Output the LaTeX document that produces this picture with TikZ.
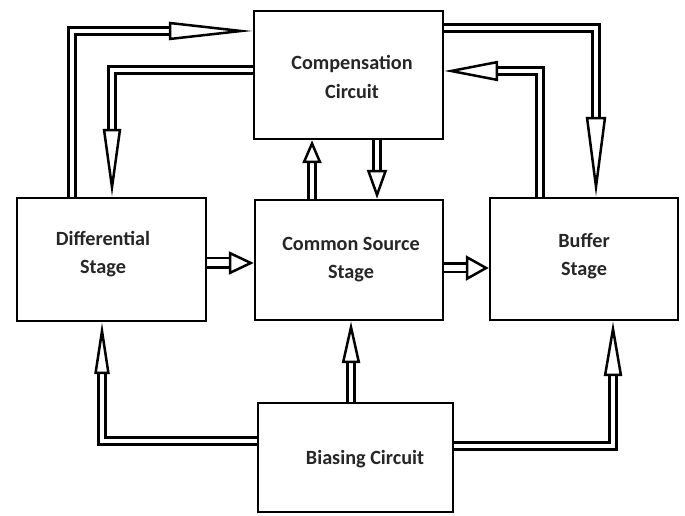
\documentclass[tikz,border=0pt]{standalone}
\usepackage{fontspec}
\setmainfont{Carlito}
\usetikzlibrary{arrows.meta}

\begin{document}
\begin{tikzpicture}[x=0.02cm,y=-0.02cm,
  blk/.style={draw,line width=0.05cm,inner sep=0pt},
  lbl/.style={align=center,font=\fontsize{11.5}{16}\selectfont\bfseries,text=black!85},
  pipe/.style={double,double distance=0.09cm,line width=0.05cm},
  hd/.style args={#1/#2}{white,line width=0.05cm,-{Triangle[open,color=black,length=#1,width=#2]}}]
\path[fill=white,use as bounding box](0,0) rectangle (685,516);
% blocks
\node[blk,minimum width=3.78cm,minimum height=2.56cm] (comp) at (348.5,75) {};
\node[blk,minimum width=3.78cm,minimum height=2.46cm] (diff) at (111.5,259.5) {};
\node[blk,minimum width=3.76cm,minimum height=2.4cm] (cs) at (349,260) {};
\node[blk,minimum width=3.76cm,minimum height=2.44cm] (buf) at (584,259) {};
\node[blk,minimum width=3.9cm,minimum height=2.18cm] (bias) at (355.5,457.5) {};
\node[lbl] (comptxt) at (352,77) {Compensation\\Circuit};
\node[lbl] (difftxt) at (103,254) {Differential\\Stage};
\node[lbl] (cstxt) at (351,260) {Common Source\\Stage};
\node[lbl] (buftxt) at (584,256) {Buffer\\Stage};
\node[lbl] (biastxt) at (365,459) {Biasing Circuit};
% feedback loops round the compensation block
\coordinate (a1) at (72,31);
\coordinate (b1) at (170,31);
\draw[pipe](diff.north -| a1)--(a1)--(b1);
\draw[hd=1.68cm/0.36cm](b1)--(comp.west |- b1);
\coordinate (a2) at (112,70);
\coordinate (b2) at (112,130);
\draw[pipe](comp.west |- a2)--(a2)--(b2);
\draw[hd=1.36cm/0.36cm](b2)--(diff.north -| b2);
\coordinate (a3) at (596,28);
\coordinate (b3) at (596,118);
\draw[pipe](comp.east |- a3)--(a3)--(b3);
\draw[hd=1.6cm/0.4cm](b3)--(buf.north -| b3);
\coordinate (a4) at (540,71);
\coordinate (b4) at (497,71);
\draw[pipe](buf.north -| a4)--(a4)--(b4);
\draw[hd=1.08cm/0.4cm](b4)--(comp.east |- b4);
\coordinate (b5) at (377,171);
\draw[pipe](comp.south -| b5)--(b5);
\draw[hd=0.58cm/0.4cm](b5)--(cs.north -| b5);
\coordinate (b6) at (312,162);
\draw[pipe](cs.north -| b6)--(b6);
\draw[hd=0.46cm/0.38cm](b6)--(comp.south -| b6);
% signal path
\coordinate (b7) at (230,263);
\draw[pipe,double distance=0.14cm](diff.east |- b7)--(b7);
\draw[hd=0.5cm/0.46cm](b7)--(cs.west |- b7);
\coordinate (b8) at (467,268);
\draw[pipe,double distance=0.12cm](cs.east |- b8)--(b8);
\draw[hd=0.46cm/0.5cm](b8)--(buf.west |- b8);
% biasing
\coordinate (a9) at (102,441);
\coordinate (b9) at (102,373);
\draw[pipe](bias.west |- a9)--(a9)--(b9);
\draw[hd=1.04cm/0.3cm](b9)--(diff.south -| b9);
\coordinate (b10) at (351,362);
\draw[pipe](bias.north -| b10)--(b10);
\draw[hd=0.84cm/0.36cm](b10)--(cs.south -| b10);
\coordinate (a11) at (613,446);
\coordinate (b11) at (613,375);
\draw[pipe](bias.east |- a11)--(a11)--(b11);
\draw[hd=1.1cm/0.36cm](b11)--(buf.south -| b11);
\end{tikzpicture}
\end{document}
